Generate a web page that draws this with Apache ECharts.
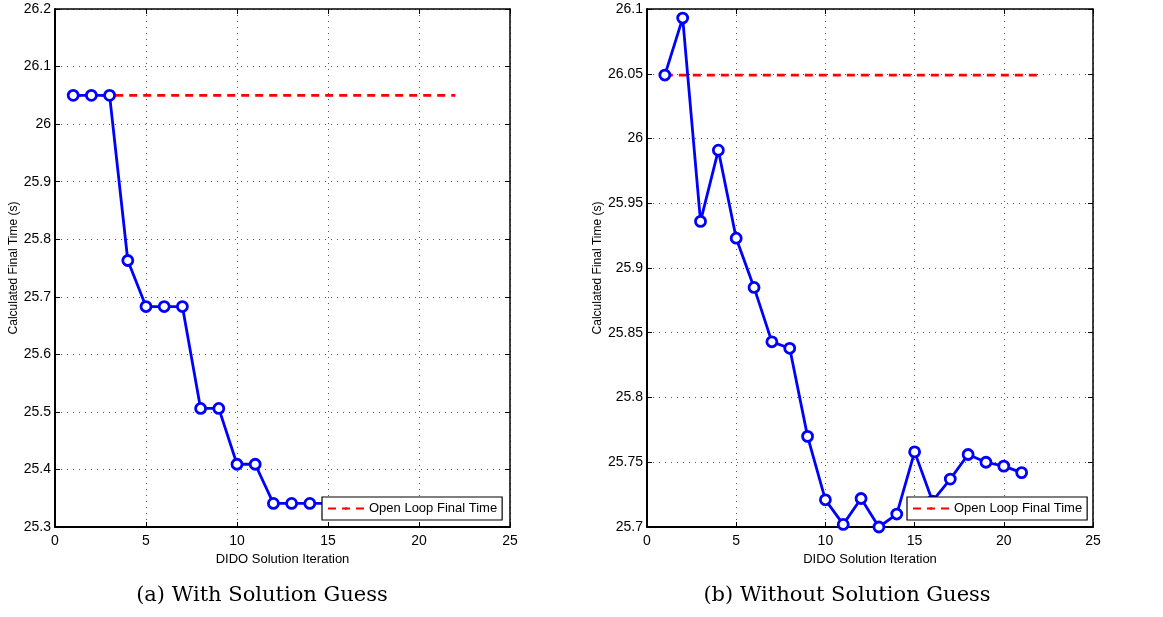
<!DOCTYPE html>
<html>
<head>
<meta charset="utf-8">
<script src="https://cdn.jsdelivr.net/npm/echarts@6/dist/echarts.min.js"></script>
<style>html,body{margin:0;padding:0;background:#fff;}#c{width:1163px;height:617px;}</style>
</head>
<body>
<div id="c"></div>
<script>
// ---- data ----
const iterA = [1, 2, 3, 4, 5, 6, 7, 8, 9, 10, 11, 12, 13, 14, 15];
const timeA = [26.05, 26.05, 26.05, 25.763, 25.683, 25.683, 25.683, 25.506, 25.506, 25.409, 25.409, 25.341, 25.341, 25.341, 25.341];
const openLoopA = 26.05;
const iterB = [1, 2, 3, 4, 5, 6, 7, 8, 9, 10, 11, 12, 13, 14, 15, 16, 17, 18, 19, 20, 21];
const timeB = [26.049, 26.093, 25.936, 25.991, 25.923, 25.885, 25.843, 25.838, 25.770, 25.721, 25.702, 25.722, 25.700, 25.710, 25.758, 25.720, 25.737, 25.756, 25.750, 25.747, 25.742];
const openLoopB = 26.049;
const openLoopX = [1, 22];
const xTicks = [0, 5, 10, 15, 20, 25];
const yRangeA = [25.3, 26.2, 0.1];
const yRangeB = [25.7, 26.1, 0.05];
const captionA = '(a) With Solution Guess';
const captionB = '(b) Without Solution Guess';
const xName = 'DIDO Solution Iteration';
const yName = 'Calculated Final Time (s)';
const legendName = 'Open Loop Final Time';

const FONT = '"Liberation Sans", Arial, sans-serif';
const SERIF = '"DejaVu Serif", "Liberation Serif", serif';
const grids = [
  {left: 55, right: 653, top: 9, bottom: 90},
  {left: 647, right: 70, top: 9, bottom: 90}
];

function xAx(gi, pos) {
  const main = pos === 'bottom';
  return {
    type: 'value', gridIndex: gi, position: pos,
    min: xTicks[0], max: xTicks[xTicks.length - 1], interval: xTicks[1] - xTicks[0],
    name: main ? xName : '', nameLocation: 'middle', nameGap: 26,
    nameTextStyle: {fontFamily: FONT, fontSize: 13, color: '#000'},
    axisLine: {show: true, onZero: false, lineStyle: {color: '#000', width: main ? 2 : 1.5}},
    axisTick: {show: true, inside: true, length: 5, lineStyle: {color: '#000', width: 1}},
    axisLabel: {show: main, fontFamily: FONT, fontSize: 14, color: '#000', margin: 7},
    splitLine: {show: main, lineStyle: {color: '#555', width: 1, type: [1, 5]}}
  };
}
function yAx(gi, pos, r, gap) {
  const main = pos === 'left';
  return {
    type: 'value', gridIndex: gi, position: pos,
    min: r[0], max: r[1], interval: r[2],
    name: main ? yName : '', nameLocation: 'middle', nameGap: gap, nameRotate: 90,
    nameTextStyle: {fontFamily: FONT, fontSize: 12, color: '#000'},
    axisLine: {show: true, onZero: false, lineStyle: {color: '#000', width: main ? 2 : 1.5}},
    axisTick: {show: true, inside: true, length: 5, lineStyle: {color: '#000', width: 1}},
    axisLabel: {show: main, fontFamily: FONT, fontSize: 14, color: '#000', margin: 4},
    splitLine: {show: main, lineStyle: {color: '#555', width: 1, type: [1, 5]}}
  };
}

function blue(xi, yi, xs, ys) {
  return {
    type: 'line', name: 'DIDO', xAxisIndex: xi, yAxisIndex: yi,
    data: xs.map((x, i) => [x, ys[i]]),
    symbol: 'circle', symbolSize: 10, showSymbol: true,
    itemStyle: {color: '#fff', borderColor: '#0000ff', borderWidth: 2.8},
    lineStyle: {color: '#0000ff', width: 2.8},
    z: 3, animation: false
  };
}
function red(xi, yi, v) {
  return {
    type: 'line', name: legendName, xAxisIndex: xi, yAxisIndex: yi,
    data: openLoopX.map(x => [x, v]),
    symbol: 'none', color: '#ff0000',
    lineStyle: {color: '#ff0000', width: 2.8, type: [8, 6]},
    z: 2, animation: false
  };
}

const legendCommon = {
  data: [legendName], orient: 'horizontal',
  backgroundColor: '#fff', borderColor: '#000', borderWidth: 1.2,
  padding: [5, 5, 5, 5], itemWidth: 36, itemHeight: 3, itemGap: 4,
  textStyle: {fontFamily: FONT, fontSize: 13, color: '#000'},
  selectedMode: false, z: 10
};

const option = {
  animation: false,
  backgroundColor: '#fff',
  grid: grids,
  xAxis: [xAx(0, 'bottom'), xAx(0, 'top'), xAx(1, 'bottom'), xAx(1, 'top')],
  yAxis: [yAx(0, 'left', yRangeA, 35), yAx(0, 'right', yRangeA, 0), yAx(1, 'left', yRangeB, 42), yAx(1, 'right', yRangeB, 0)],
  legend: [
    Object.assign({}, legendCommon, {left: 322, top: 497}),
    Object.assign({}, legendCommon, {left: 907, top: 497})
  ],
  series: [
    red(0, 0, openLoopA), blue(0, 0, iterA, timeA),
    red(2, 2, openLoopB), blue(2, 2, iterB, timeB)
  ],
  graphic: [
    {type: 'text', silent: true, x: 262, y: 596,
     style: {text: captionA, font: '21px ' + SERIF, fill: '#000', align: 'center', verticalAlign: 'middle'}},
    {type: 'text', silent: true, x: 847, y: 596,
     style: {text: captionB, font: '21px ' + SERIF, fill: '#000', align: 'center', verticalAlign: 'middle'}}
  ]
};

const chart = echarts.init(document.getElementById('c'), null, {renderer: 'canvas'});
chart.setOption(option);
</script>
</body>
</html>
